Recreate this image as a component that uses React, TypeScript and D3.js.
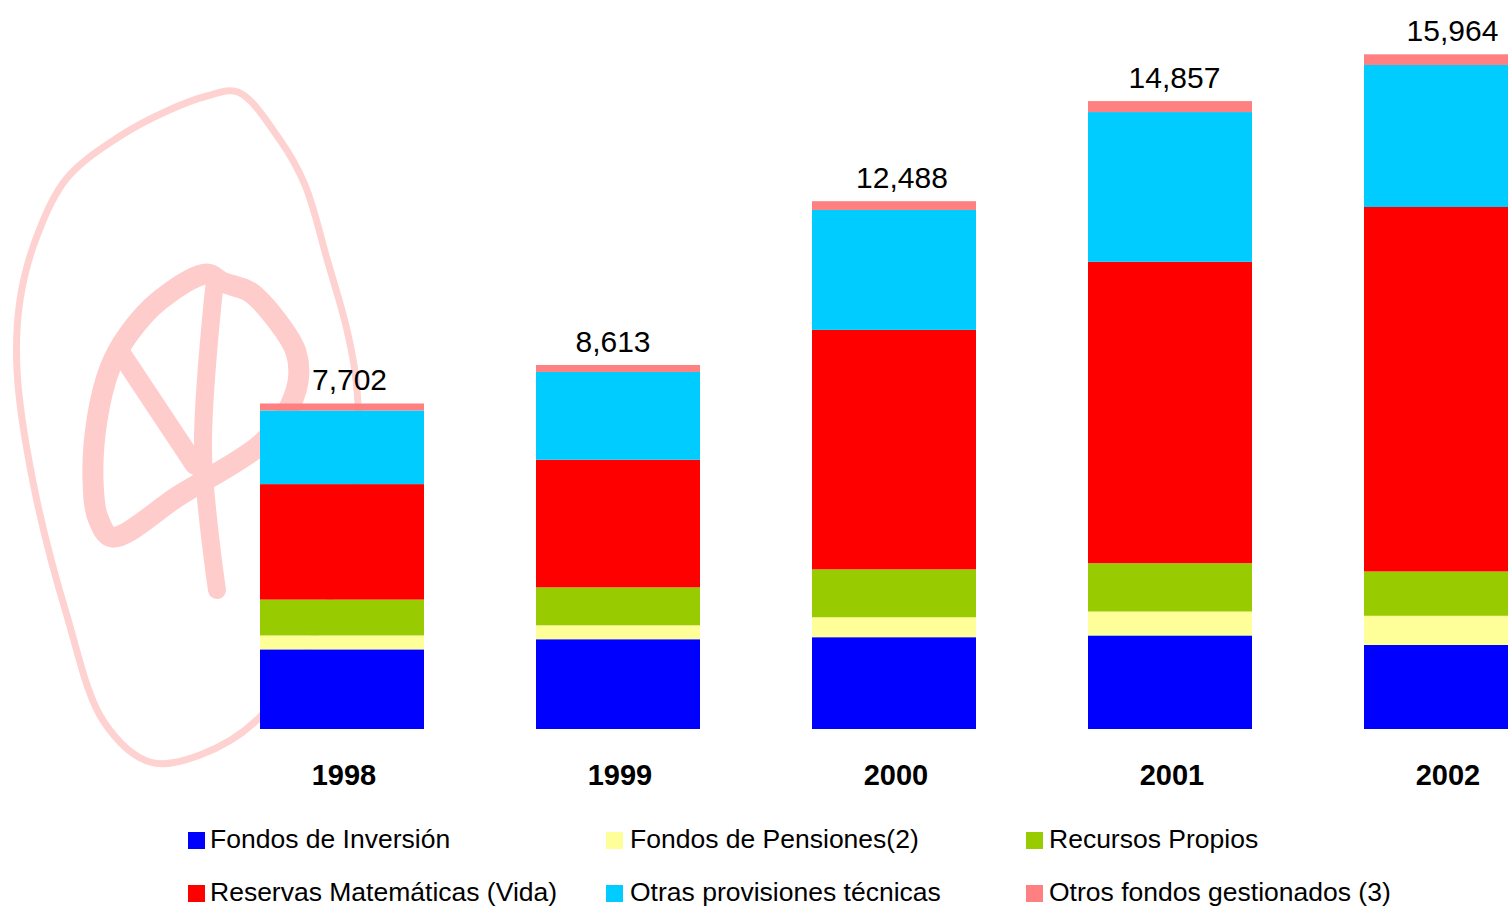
import React from "react";
import * as d3 from "d3";

const years = ["1998", "1999", "2000", "2001", "2002"];
const totals = [7702, 8613, 12488, 14857, 15964];
const seriesNames = [
  "Fondos de Inversión",
  "Fondos de Pensiones(2)",
  "Recursos Propios",
  "Reservas Matemáticas (Vida)",
  "Otras provisiones técnicas",
  "Otros fondos gestionados (3)",
];
const seriesKeys = ["inv", "pen", "rec", "res", "otp", "otf"];
const fondosInversion = [1884, 2124, 2172, 2213, 1988];
const fondosPensiones = [330, 330, 472, 567, 691];
const recursosPropios = [848, 897, 1133, 1143, 1048];
const reservasMatematicas = [2732, 3020, 5666, 7131, 8624];
const otrasProvisiones = [1743, 2077, 2838, 3543, 3360];
const otrosFondos = [165, 165, 207, 260, 253];
const colors = ["#0000FF", "#FFFF99", "#99CC00", "#FF0000", "#00CCFF", "#FF8080"];

// horizontal nudges of the total labels as seen in the reference
const labelShift = [7.5, -5, 8, 4.5, 6.5];

const W = 1508;
const H = 906;
const FONT = "'Liberation Sans', Arial, Helvetica, sans-serif";

const table = years.map((y, i) => ({
  year: y,
  inv: fondosInversion[i],
  pen: fondosPensiones[i],
  rec: recursosPropios[i],
  res: reservasMatematicas[i],
  otp: otrasProvisiones[i],
  otf: otrosFondos[i],
}));

// watermark outline (decorative)
const loopPts: [number, number][] = [
  [238, 92], [280, 140], [305, 185], [327, 259], [347, 330], [356, 380], [358, 450],
  [330, 600], [262, 715], [200, 755], [150, 762], [104, 722], [67, 616], [33, 482],
  [17, 370], [20, 300], [37, 236], [67, 178], [117, 138], [167, 111], [207, 96],
];
const symLoop: [number, number][] = [
  [110, 368], [128, 335], [160, 300], [207, 274], [222, 282], [250, 292], [278, 322],
  [296, 352], [298, 382], [285, 415], [260, 445], [180, 495], [112, 537], [98, 518],
  [93, 480], [97, 420],
];
const symStem: [number, number][] = [[215, 280], [203, 450], [217, 590]];

export default function App() {
  const stack = d3.stack<any>().keys(seriesKeys);
  const layers = stack(table);

  const x = d3
    .scaleBand<string>()
    .domain(years)
    .range([204, 1584])
    .paddingInner(0.4058)
    .paddingOuter(0.2029);

  const y = d3.scaleLinear().domain([0, 15964]).range([729, 54.3]);

  const closed = d3.line().curve(d3.curveCatmullRomClosed.alpha(0.5));
  const open = d3.line().curve(d3.curveCatmullRom.alpha(0.5));

  const legendCols = [188, 606, 1026];
  const legendText = [210, 630, 1049];
  const legendRows = [832, 885];

  return (
    <svg
      width={W}
      height={H}
      style={{ position: "absolute", left: 0, top: 0, background: "#fff" }}
      fontFamily={FONT}
    >
      <rect width={W} height={H} fill="#fff" />
      {/* watermark */}
      <g fill="none" strokeLinecap="round" strokeLinejoin="round">
        <path d={closed(loopPts) || ""} strokeWidth={7} stroke="#FFD2D2" />
        <g stroke="#FFCCCC">
          <path d={closed(symLoop) || ""} strokeWidth={21} />
          <path d="M122,355 L195,465" strokeWidth={20} />
          <path d={open(symStem) || ""} strokeWidth={18} />
        </g>
      </g>

      {layers.map((layer, li) => (
        <g key={seriesKeys[li]} fill={colors[li]}>
          {layer.map((d: any, i: number) => (
            <rect
              key={years[i]}
              x={x(years[i])}
              y={y(d[1])}
              width={x.bandwidth()}
              height={y(d[0]) - y(d[1])}
            />
          ))}
        </g>
      ))}

      {years.map((yr, i) => (
        <text
          key={"t" + yr}
          x={(x(yr) as number) + x.bandwidth() / 2 + labelShift[i]}
          y={y(totals[i]) - 13}
          textAnchor="middle"
          fontSize={30}
          fill="#000"
        >
          {d3.format(",")(totals[i])}
        </text>
      ))}

      {years.map((yr) => (
        <text
          key={"x" + yr}
          x={(x(yr) as number) + x.bandwidth() / 2 + 2}
          y={785}
          textAnchor="middle"
          fontSize={29}
          fontWeight="bold"
          fill="#000"
        >
          {yr}
        </text>
      ))}

      {seriesNames.map((name, i) => {
        const col = i % 3;
        const row = Math.floor(i / 3);
        const ly = legendRows[row];
        return (
          <g key={name}>
            <rect x={legendCols[col]} y={ly} width={17} height={17} fill={colors[i]} />
            <text x={legendText[col]} y={ly + 16} fontSize={26.5} fill="#000">
              {name}
            </text>
          </g>
        );
      })}
    </svg>
  );
}
